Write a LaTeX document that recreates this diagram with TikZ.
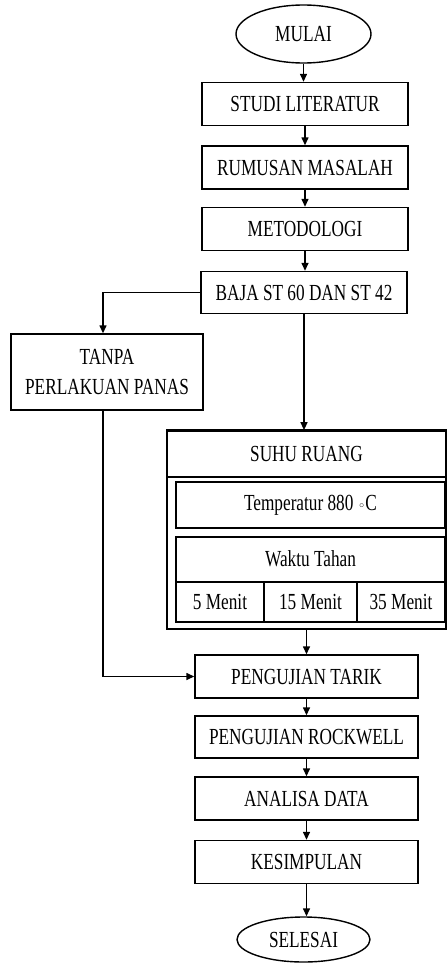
\documentclass[tikz,border=0pt]{standalone}
\usepackage{fontspec}
\setmainfont[FakeStretch=0.75]{Liberation Serif}
\newfontfamily\symfont{DejaVu Sans}
\usetikzlibrary{shapes.geometric,arrows.meta}
\begin{document}
\begin{tikzpicture}[x=1pt,y=-1pt,
  every node/.style={font=\fontsize{23}{30}\selectfont, inner sep=0pt},
  box/.style={draw, line width=1.4pt, minimum width=206pt, minimum height=43pt},
  lbox/.style={draw, line width=1.4pt, minimum width=223pt, minimum height=43pt},
  term/.style={draw, ellipse, line width=1.4pt},
  arr/.style={line width=1.4pt, -{Triangle[length=8pt,width=7pt]}},
  ln/.style={line width=1.4pt}]
\useasboundingbox (0,0) rectangle (447,963);

\node[term, minimum width=135pt, minimum height=58pt] (mulai) at (303.5,34) {MULAI};
\node[box] (studi) at (305,104) {STUDI LITERATUR};
\node[box] (rumusan) at (305,167.5) {RUMUSAN MASALAH};
\node[box] (metod) at (305,229) {METODOLOGI};
\node[box, minimum height=42pt] (baja) at (304,292.5) {BAJA ST 60 DAN ST 42};
\node[draw, line width=1.4pt, minimum width=192pt, minimum height=76pt, align=center] (tanpa) at (107,372) {TANPA\\PERLAKUAN PANAS};

% heat treatment block
\node[draw, line width=1.8pt, minimum width=279pt, minimum height=198pt] (outer) at (306.5,530) {};
\draw[line width=3pt] (outer.north west) -- (outer.north east);
\node (suhu) at (306.5,454) {SUHU RUANG};
\coordinate (sep) at (0,477);
\draw[ln] (outer.west |- sep) -- (outer.east |- sep);
\node[draw, line width=1.4pt, minimum width=269pt, minimum height=46pt] (temp) at (310.5,505) {Temperatur 880 {\symfont\fontsize{13}{14}\selectfont ◦}C};
\node[draw, line width=1.4pt, minimum width=269pt, minimum height=85pt] (waktu) at (310.5,579.5) {};
\node (wt) at (310.5,559) {Waktu Tahan};
\node[draw, line width=1.4pt, minimum width=88pt, minimum height=40pt] (c1) at (220,602) {5 Menit};
\node[draw, line width=1.4pt, minimum width=93pt, minimum height=40pt] (c2) at (310.5,602) {15 Menit};
\node[draw, line width=1.4pt, minimum width=88pt, minimum height=40pt] (c3) at (401,602) {35 Menit};

\node[lbox] (tarik) at (306.5,676.5) {PENGUJIAN TARIK};
\node[lbox, minimum height=42pt] (rock) at (306.5,737) {PENGUJIAN ROCKWELL};
\node[lbox] (analisa) at (306.5,798.5) {ANALISA DATA};
\node[lbox] (kesim) at (306.5,862) {KESIMPULAN};
\node[term, minimum width=133pt, minimum height=45pt] (selesai) at (303.5,939.5) {SELESAI};

% connectors
\draw[arr] (mulai.south) -- (mulai.south |- studi.north);
\draw[arr] (studi.south) -- (studi.south |- rumusan.north);
\draw[arr] (rumusan.south) -- (rumusan.south |- metod.north);
\draw[arr] (metod.south) -- (metod.south |- baja.north);
\draw[arr] (baja.west) -| ([xshift=-4pt]tanpa.north);
\draw[arr] (baja.south) -- (baja.south |- outer.north);
\draw[arr] ([xshift=-4pt]tanpa.south) |- (tarik.west);
\draw[arr] (outer.south) -- (outer.south |- tarik.north);
\draw[arr] (tarik.south) -- (tarik.south |- rock.north);
\draw[arr] (rock.south) -- (rock.south |- analisa.north);
\draw[arr] (analisa.south) -- (analisa.south |- kesim.north);
\draw[arr] (kesim.south) -- (kesim.south |- selesai.north);
\end{tikzpicture}
\end{document}
